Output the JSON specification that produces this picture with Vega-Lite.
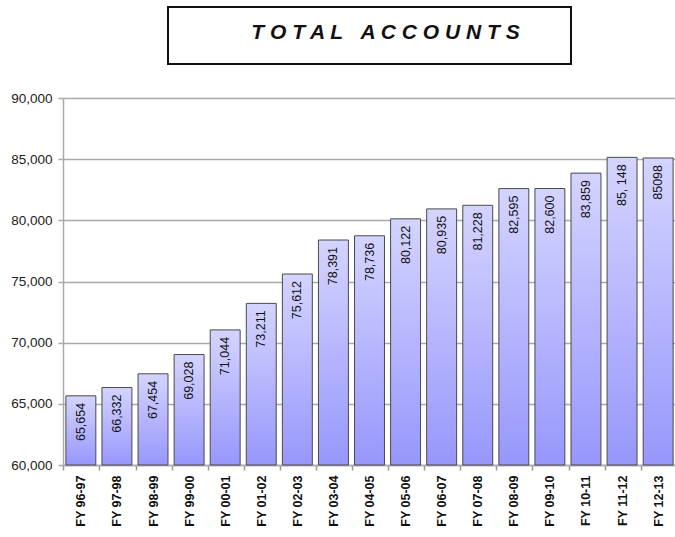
{
  "$schema": "https://vega.github.io/schema/vega-lite/v6.json",
  "background": "white",
  "padding": {"left": 10, "top": 6, "right": 0, "bottom": 0},
  "config": {"view": {"stroke": null}, "font": "Liberation Sans"},
  "center": true,
  "bounds": "flush",
  "spacing": 34,
  "vconcat": [
    {
      "width": 403,
      "height": 57,
      "view": {"stroke": "#111111", "strokeWidth": 2},
      "data": {"values": [{"t": "T O T A L\u00a0\u00a0\u00a0A C C O U N T S"}]},
      "mark": {"type": "text", "font": "Liberation Sans", "fontSize": 21, "fontStyle": "italic", "fontWeight": "bold", "color": "#111111", "align": "center", "baseline": "middle", "dx": 16, "dy": -3},
      "encoding": {"text": {"field": "t", "type": "nominal"}}
    },
    {
      "width": 613,
      "height": 367,
      "data": {"values": [
        {"fy": "FY 96-97", "v": 65654, "label": "65,654"},
        {"fy": "FY 97-98", "v": 66332, "label": "66,332"},
        {"fy": "FY 98-99", "v": 67454, "label": "67,454"},
        {"fy": "FY 99-00", "v": 69028, "label": "69,028"},
        {"fy": "FY 00-01", "v": 71044, "label": "71,044"},
        {"fy": "FY 01-02", "v": 73211, "label": "73,211"},
        {"fy": "FY 02-03", "v": 75612, "label": "75,612"},
        {"fy": "FY 03-04", "v": 78391, "label": "78,391"},
        {"fy": "FY 04-05", "v": 78736, "label": "78,736"},
        {"fy": "FY 05-06", "v": 80122, "label": "80,122"},
        {"fy": "FY 06-07", "v": 80935, "label": "80,935"},
        {"fy": "FY 07-08", "v": 81228, "label": "81,228"},
        {"fy": "FY 08-09", "v": 82595, "label": "82,595"},
        {"fy": "FY 09-10", "v": 82600, "label": "82,600"},
        {"fy": "FY 10-11", "v": 83859, "label": "83,859"},
        {"fy": "FY 11-12", "v": 85148, "label": "85, 148"},
        {"fy": "FY 12-13", "v": 85098, "label": "85098"}
      ]},
      "encoding": {
        "x": {
          "field": "fy", "type": "nominal", "sort": null, "title": null,
          "scale": {"paddingInner": 0.17, "paddingOuter": 0.08},
          "axis": {
            "bandPosition": 0, "tickOffset": -2.5, "labelOffset": 2.5,
            "labelAngle": -90, "labelAlign": "right", "labelBaseline": "middle",
            "labelFont": "Liberation Sans", "labelFontSize": 12.5, "labelFontWeight": "bold", "labelColor": "#111111",
            "labelPadding": 5, "tickSize": 5, "tickColor": "#999999", "tickWidth": 1.5,
            "domainColor": "#aaaaaa", "domainWidth": 1.5, "grid": false
          }
        },
        "y": {
          "field": "v", "type": "quantitative", "title": null,
          "scale": {"domain": [60000, 90000], "zero": false, "nice": false},
          "axis": {
            "values": [60000, 65000, 70000, 75000, 80000, 85000, 90000], "format": ",.0f",
            "labelFont": "Liberation Sans", "labelFontSize": 13.5, "labelColor": "#222222",
            "labelPadding": 6, "tickSize": 5, "tickColor": "#aaaaaa", "tickWidth": 1.5,
            "domainColor": "#aaaaaa", "domainWidth": 1.5,
            "grid": true, "gridColor": "#aaaaaa", "gridWidth": 1.5
          }
        }
      },
      "layer": [
        {
          "mark": {
            "type": "bar",
            "fill": {"gradient": "linear", "x1": 0, "y1": 0, "x2": 0, "y2": 1,
              "stops": [{"offset": 0, "color": "#d4d4ff"}, {"offset": 1, "color": "#9797fc"}]},
            "stroke": "#4a4a4a", "strokeWidth": 1
          },
          "encoding": {
            "y2": {"datum": 60000}
          }
        },
        {
          "mark": {"type": "text", "angle": 270, "align": "right", "baseline": "middle", "dx": -7, "font": "Liberation Sans", "fontSize": 12.5, "color": "#111111"},
          "encoding": {
            "text": {"field": "label", "type": "nominal"}
          }
        }
      ]
    }
  ]
}
